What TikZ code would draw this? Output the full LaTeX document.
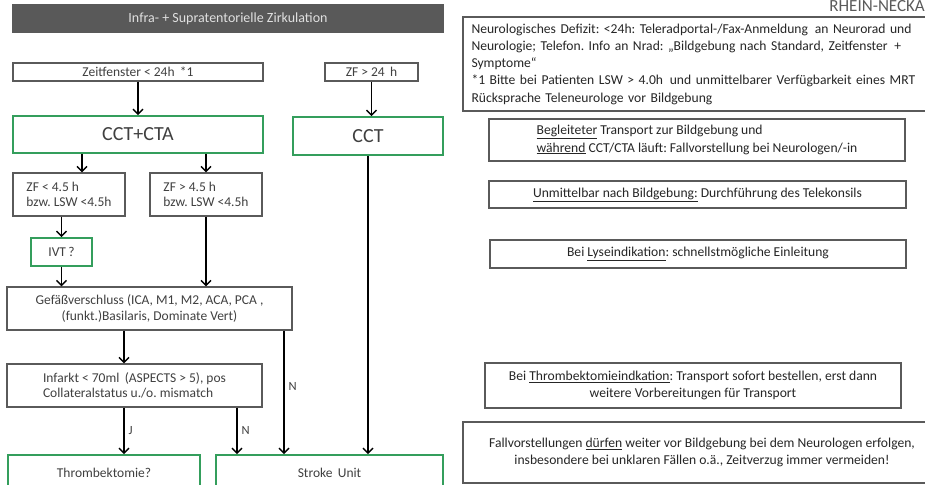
\documentclass[tikz,border=0pt]{standalone}
\usepackage{fontspec}
\setmainfont{Carlito}
\usetikzlibrary{arrows.meta}
\definecolor{boxgreen}{RGB}{52,158,92}
\definecolor{boxgray}{RGB}{90,90,90}
\definecolor{bargray}{RGB}{89,89,89}
\definecolor{txtgray}{RGB}{64,64,64}
\frenchspacing

\begin{document}
\begin{tikzpicture}[
    x=1pt, y=-1pt,
    box/.style={rectangle, draw=boxgray, line width=1.3pt, fill=white, inner sep=0pt, text=txtgray, align=center, font=\fontsize{13.5}{15.5}\selectfont},
    greenbox/.style={box, draw=boxgreen, line width=1.8pt},
    note/.style={box, text=black!85, font=\fontsize{13.6}{17.25}\selectfont},
    arrow/.style={-{Straight Barb[length=5pt,width=10pt]}, line width=1.4pt},
    label/.style={right, inner sep=4pt, text=txtgray, font=\fontsize{12.5}{14}\selectfont}
]
    \useasboundingbox (0,0) rectangle (925,484);
    \clip (0,0) rectangle (925,484);

    % left: flow chart
    \node[box, fill=bargray, draw=bargray, text=white!88!black, minimum width=430pt, minimum height=27pt, font=\fontsize{14}{16}\selectfont] (title) at (228,18.5) {Infra- + Supratentorielle Zirkulation};
    \node[box, minimum width=250pt, minimum height=18pt] (zf24) at (138,72) {Zeitfenster < 24h \,*1};
    \node[box, minimum width=93pt, minimum height=18pt] (zfg24) at (371.5,72) {ZF > 24 \,h};
    \node[greenbox, minimum width=250pt, minimum height=37pt, font=\fontsize{20}{24}\selectfont] (ccta) at (138,134.5) {CCT+CTA};
    \node[greenbox, minimum width=150pt, minimum height=38pt, font=\fontsize{20}{24}\selectfont] (cct) at (368,136) {CCT};
    \node[box, minimum width=112pt, minimum height=43pt, align=left] (zfk45) at (69,194.5) {ZF < 4.5 h\\bzw. LSW <4.5h};
    \node[box, minimum width=112pt, minimum height=43pt, align=left] (zfg45) at (206,194.5) {ZF > 4.5 h\\bzw. LSW <4.5h};
    \node[greenbox, minimum width=61pt, minimum height=28pt] (ivt) at (61.5,252) {IVT\,?};
    \node[box, minimum width=285pt, minimum height=43pt] (gef) at (149.5,308.5) {Gefäßverschluss (ICA, M1, M2, ACA, PCA ,\\(funkt.)Basilaris, Dominate Vert)};
    \node[box, minimum width=255pt, minimum height=43pt, align=left] (inf) at (134.5,385.5) {Infarkt < 70ml \,(ASPECTS > 5), pos\\Collateralstatus u./o. mismatch};
    \node[greenbox, minimum width=192pt, minimum height=35pt] (thr) at (104,472.5) {Thrombektomie?};
    \node[greenbox, minimum width=227pt, minimum height=35pt] (su) at (329.5,472.5) {Stroke \,Unit};

    \draw[arrow] (zf24) -- (ccta);
    \draw[arrow] (zfg24) -- (zfg24 |- cct.north);
    \draw[arrow] ([xshift=13pt]zfk45.north |- ccta.south) -- ([xshift=13pt]zfk45.north);
    \draw[arrow] (zfg45.north |- ccta.south) -- (zfg45.north);
    \draw[arrow] (zfk45.south -| ivt) -- (ivt);
    \draw[arrow] (ivt) -- (ivt |- gef.north);
    \draw[arrow] (zfg45) -- (zfg45 |- gef.north);
    \draw[arrow] ([xshift=-25.5pt]gef.south) -- ([xshift=-25.5pt]gef.south |- inf.north);
    \draw[arrow] ([xshift=-10.5pt]inf.south) -- ([xshift=-10.5pt]inf.south |- thr.north) node[label, midway] {J};
    \draw[arrow] ([xshift=102.5pt]inf.south) -- ([xshift=102.5pt]inf.south |- su.north) node[label, midway] {N};
    \draw[arrow] ([xshift=134.5pt]gef.south) -- ([xshift=134.5pt]gef.south |- su.north) node[label, pos=0.45] {N};
    \draw[arrow] (cct) -- (cct |- su.north);

    % right: notes
    \node[anchor=base east, inner sep=0pt, text=boxgray, font=\fontsize{17}{17}\selectfont] (brand) at (925,12) {RHEIN-NECKA};
    \node[note, minimum width=472pt, minimum height=94pt, text width=455pt, align=left] (info) at (699,64) {Neurologisches Defizit: <24h: Teleradportal-/Fax-Anmeldung \,an Neurorad und\\Neurologie; Telefon. Info an Nrad: „Bildgebung nach Standard, Zeitfenster \,+\\Symptome“\\{}*1 Bitte bei Patienten LSW > 4.0h \,und unmittelbarer Verfügbarkeit eines MRT\\Rücksprache Teleneurologe vor Bildgebung};
    \node[note, minimum width=416pt, minimum height=42pt, align=left] (beg) at (697,140) {\underline{Begleiteter} Transport zur Bildgebung und\\\underline{während} CCT/CTA läuft: Fallvorstellung bei Neurologen/-in};
    \node[note, minimum width=417pt, minimum height=27pt] (unm) at (697.5,194.5) {\underline{Unmittelbar nach Bildgebung:} Durchführung des Telekonsils};
    \node[note, minimum width=416pt, minimum height=28pt] (lyse) at (698,254) {Bei \underline{Lyseindikation}: schnellstmögliche Einleitung};
    \node[note, minimum width=416pt, minimum height=45pt] (thrI) at (693,385.5) {Bei \underline{Thrombektomieindkation}: Transport sofort bestellen, erst dann\\weitere Vorbereitungen für Transport};
    \node[note, minimum width=478pt, minimum height=61pt] (fall) at (702,452.5) {Fallvorstellungen \underline{dürfen} weiter vor Bildgebung bei dem Neurologen erfolgen,\\insbesondere bei unklaren Fällen o.ä., Zeitverzug immer vermeiden!};
\end{tikzpicture}
\end{document}
